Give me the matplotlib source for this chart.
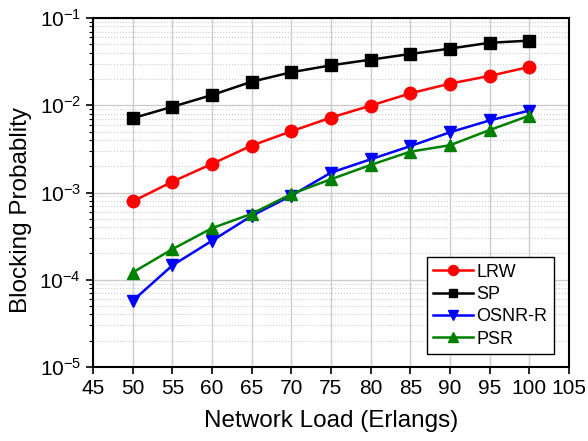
import matplotlib
matplotlib.use('Agg')
import matplotlib.pyplot as plt
from matplotlib.ticker import LogLocator, FixedLocator

plt.rcParams['font.family'] = ['Liberation Sans', 'DejaVu Sans']

load = [50, 55, 60, 65, 70, 75, 80, 85, 90, 95, 100]
lrw = [0.00079, 0.00133, 0.00213, 0.00345, 0.00503, 0.00722, 0.0099, 0.0137, 0.0177, 0.0217, 0.0275]
sp = [0.0071, 0.0096, 0.0131, 0.0186, 0.0239, 0.0287, 0.0333, 0.0387, 0.0446, 0.052, 0.055]
osnr = [0.0000573, 0.000146, 0.00028, 0.00054, 0.00092, 0.00169, 0.0024, 0.0034, 0.0049, 0.0067, 0.0087]
psr = [0.000121, 0.000224, 0.00039, 0.00057, 0.00096, 0.00142, 0.00207, 0.00294, 0.00348, 0.0052, 0.0076]

fig = plt.figure(figsize=(5.88, 4.41), dpi=100)
ax = fig.add_axes([93/588, 1 - 367/441, 476/588, 349/441])

ax.plot(load, lrw, '-o', color='red', lw=1.8, markersize=9, label='LRW')
ax.plot(load, sp, '-s', color='black', lw=1.8, markersize=8, label='SP')
ax.plot(load, osnr, '-v', color='blue', lw=1.8, markersize=9, label='OSNR-R')
ax.plot(load, psr, '-^', color='green', lw=1.8, markersize=9, label='PSR')

ax.set_yscale('log')
ax.set_xlim(45, 105)
ax.set_ylim(1e-5, 1e-1)
ax.set_xticks(range(45, 106, 5))
ax.yaxis.set_major_locator(FixedLocator([1e-5, 1e-4, 1e-3, 1e-2, 1e-1]))
ax.yaxis.set_minor_locator(LogLocator(base=10, subs=range(2, 10)))

ax.grid(True, which='major', color='#cccccc', lw=1)
ax.grid(True, which='minor', axis='y', color='#cccccc', lw=0.8, ls=':')
ax.set_axisbelow(True)

ax.tick_params(which='major', direction='out', length=5, width=1.2, labelsize=15)
ax.tick_params(which='minor', direction='out', length=3, width=0.8)
for s in ax.spines.values():
    s.set_linewidth(1.5)

ax.set_xlabel('Network Load (Erlangs)', fontsize=17.5, labelpad=9)
ax.set_ylabel('Blocking Probablity', fontsize=17.5)
ax.yaxis.set_label_coords(-0.128, 0.45)

leg = ax.legend(loc='lower right', fontsize=13, fancybox=False, edgecolor='black',
                framealpha=1, handlelength=2.2, borderpad=0.35, labelspacing=0.3,
                handletextpad=0.2, markerscale=0.8, borderaxespad=0,
                bbox_to_anchor=(0.968, 0.037))
leg.get_frame().set_linewidth(1.0)

fig.savefig('out.png', dpi=100)
